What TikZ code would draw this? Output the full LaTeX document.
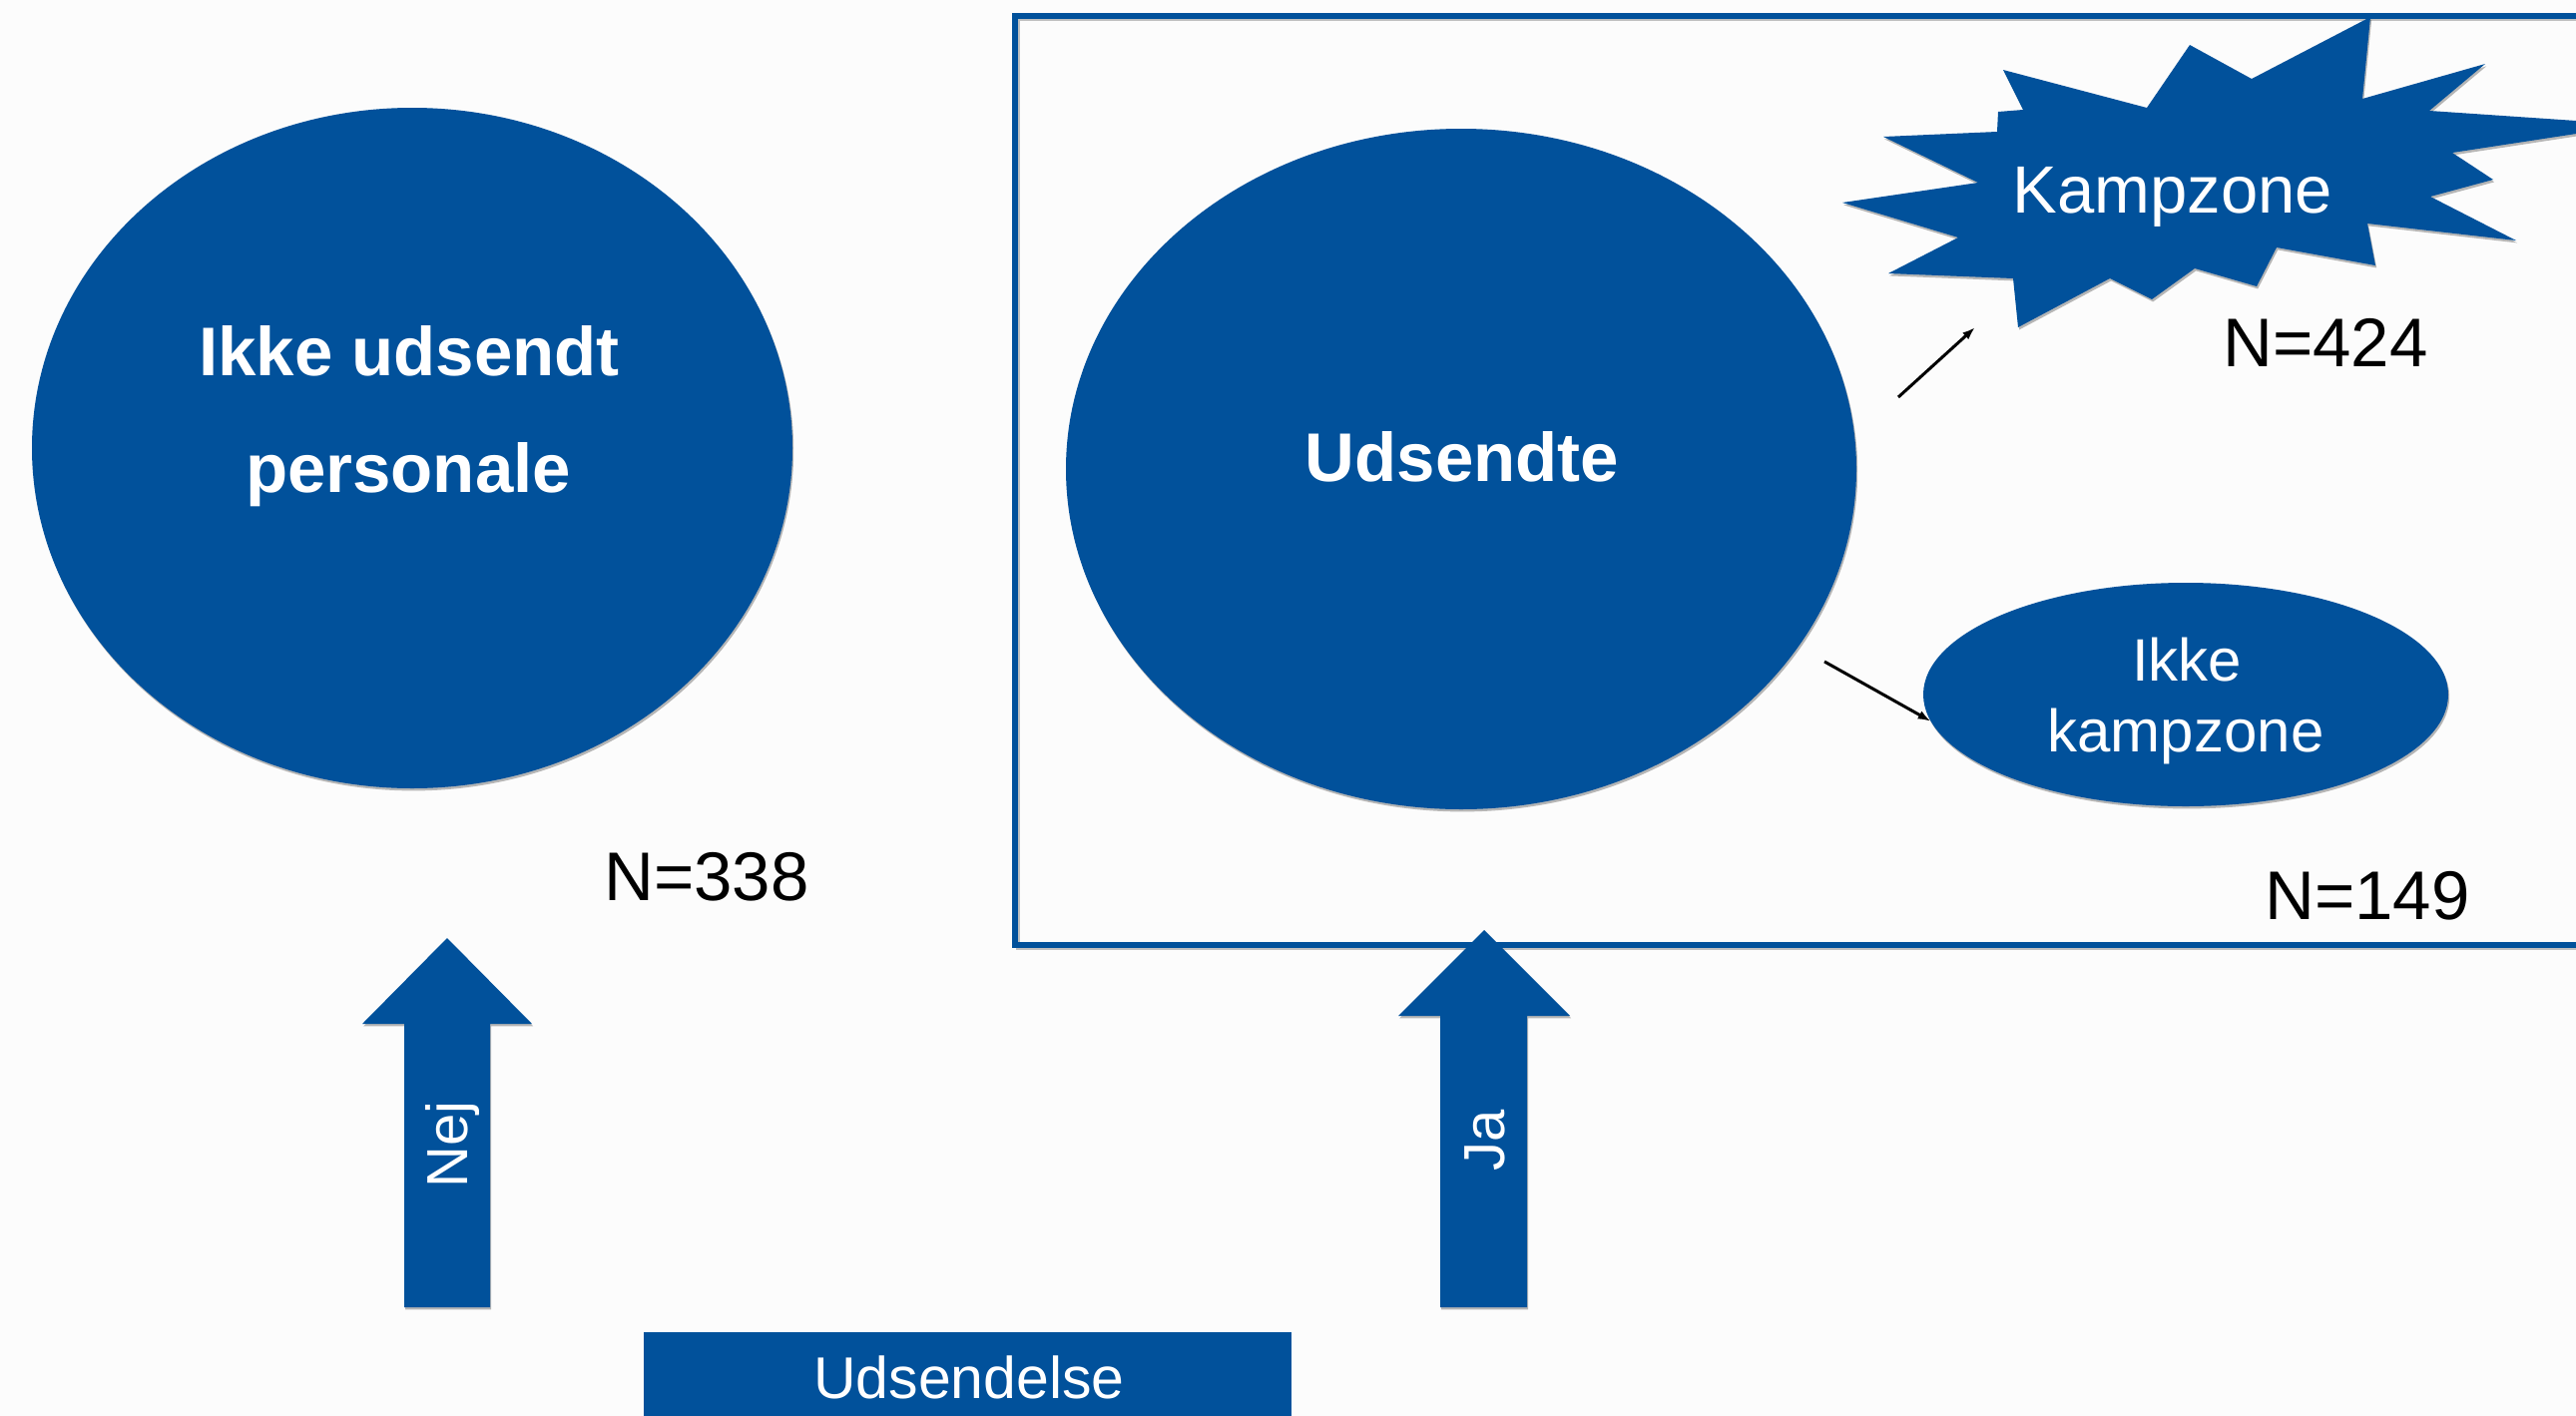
\documentclass[tikz,border=0pt]{standalone}
\usepackage{fontspec}
\setmainfont{Liberation Sans}
\usetikzlibrary{shapes.geometric,arrows.meta,shadows}
\definecolor{fmblue}{RGB}{1,81,155}
\definecolor{bgc}{RGB}{252,252,252}
\begin{document}
\begin{tikzpicture}[x=0.5pt,y=-0.5pt,
  shad/.style={drop shadow={shadow xshift=0.6pt,shadow yshift=-1.2pt,fill=black,opacity=0.28}},
  blob/.style={ellipse,fill=fmblue,inner sep=0pt,outer sep=0pt,shad},
  wtxt/.style={text=white,inner sep=0pt,anchor=base},
  ntxt/.style={text=black,inner sep=0pt,anchor=base,font=\fontsize{34.5}{40}\selectfont},
  boldtxt/.style={wtxt,font=\bfseries\fontsize{34.5}{40}\selectfont},
  rottxt/.style={text=white,inner sep=0pt,rotate=90,font=\fontsize{29}{34}\selectfont,text height=20.8pt,text depth=0pt},
  conn/.style={line width=1.5pt,-{Latex[length=6.5pt,width=4.5pt]}},
  ]
\useasboundingbox (0,0) rectangle (2581,1419);
\clip (0,0) rectangle (2581,1419);
\fill[bgc] (0,0) rectangle (2581,1419);

% frame around deployed group (with faint shadow line)
\draw[black!25,line width=2pt] (2640,19) -- (1020,19) -- (1020,950) -- (2640,950);
\draw[fmblue,line width=3pt] (2640,16) -- (1017,16) -- (1017,947) -- (2640,947);

% ellipses
\node[blob,minimum width=381pt,minimum height=341pt] (ikkeud) at (413,449) {};
\node[boldtxt] (t1a) at (410,376) {Ikke udsendt};
\node[boldtxt] (t1b) at (409,493) {personale};

\node[blob,minimum width=396pt,minimum height=341pt] (udsendte) at (1464,470) {};
\node[boldtxt] (t2) at (1465,482) {Udsendte};

\node[blob,minimum width=263pt,minimum height=112pt] (ikkek) at (2190,696) {};
\node[wtxt,font=\fontsize{30}{36}\selectfont] (t4a) at (2191,682) {Ikke};
\node[wtxt,font=\fontsize{30}{36}\selectfont] (t4b) at (2190,753) {kampzone};

% starburst
\fill[fmblue,shad] (2375,17) -- (2256,79) -- (2194,45) -- (2151,108) -- (2007,70) -- (2027,110)
  -- (2002,112) -- (2001,132) -- (1887,137) -- (1982,183) -- (1846,203) -- (1962,238)
  -- (1892,274) -- (2017,279) -- (2022,328) -- (2114,279) -- (2156,300) -- (2199,269)
  -- (2261,287) -- (2281,248) -- (2380,266) -- (2372,224) -- (2521,241) -- (2435,197)
  -- (2498,180) -- (2457,153) -- (2640,125) -- (2434,111) -- (2490,64) -- (2367,99) -- cycle;
\node[wtxt,font=\fontsize{33.5}{40}\selectfont] (t3) at (2177,213) {Kampzone};

% N labels
\node[ntxt] (n338) at (708,902) {N=338};
\node[ntxt] (n424) at (2330,367) {N=424};
\node[ntxt] (n149) at (2372,921) {N=149};

% connectors
\coordinate (a1s) at (1902,398);
\coordinate (a1e) at (1979,328);
\coordinate (a2s) at (1828,663);
\draw[conn] (a1s) -- (a1e);
\draw[conn] (a2s) -- (ikkek.186);

% block arrows
\fill[fmblue,shad] (448,940) -- (533,1026) -- (491,1026) -- (491,1310) -- (405,1310)
  -- (405,1026) -- (363,1026) -- cycle;
\node[rottxt] (nej) at (448,1147) {Nej};
\fill[fmblue,shad] (1487,932) -- (1573,1018) -- (1530,1018) -- (1530,1310) -- (1443,1310)
  -- (1443,1018) -- (1401,1018) -- cycle;
\node[rottxt] (ja) at (1487,1143) {Ja};

% bottom box
\node[fill=fmblue,inner sep=0pt,minimum width=324.5pt,minimum height=45pt] (udsbox) at (969.5,1380) {};
\node[wtxt,font=\fontsize{29.5}{35}\selectfont] (t5) at (971,1401) {Udsendelse};
\end{tikzpicture}
\end{document}
